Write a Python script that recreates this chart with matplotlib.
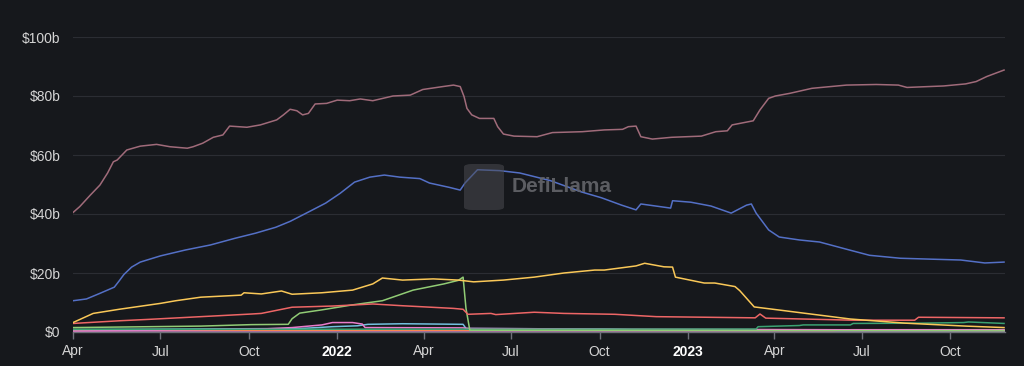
import matplotlib
matplotlib.use("Agg")
import matplotlib.pyplot as plt
from matplotlib.patches import FancyBboxPatch
import pandas as pd

# ---------------- data (billions USD) ----------------
usdt_dates = ["2021-04-01","2021-04-08","2021-04-19","2021-04-29","2021-05-07","2021-05-13","2021-05-17",
              "2021-05-27","2021-06-10","2021-06-27","2021-07-11","2021-07-29","2021-08-04","2021-08-14",
              "2021-08-25","2021-09-04","2021-09-11","2021-09-29","2021-10-13","2021-10-30","2021-11-06",
              "2021-11-13","2021-11-20","2021-11-26","2021-12-02","2021-12-09","2021-12-21","2022-01-01",
              "2022-01-14","2022-01-25","2022-02-07","2022-02-28","2022-03-18","2022-03-31","2022-04-21",
              "2022-05-02","2022-05-09","2022-05-13","2022-05-16","2022-05-21","2022-05-29","2022-06-13",
              "2022-06-17","2022-06-23","2022-07-04","2022-07-28","2022-08-13","2022-09-13","2022-10-06",
              "2022-10-25","2022-10-31","2022-11-08","2022-11-13","2022-11-25","2022-12-15","2023-01-15",
              "2023-01-30","2023-02-11","2023-02-16","2023-03-10","2023-03-17","2023-03-26","2023-04-02",
              "2023-04-17","2023-05-10","2023-06-15","2023-07-16","2023-08-08","2023-08-17","2023-09-24",
              "2023-10-17","2023-10-28","2023-11-08","2023-11-26"]
usdt_vals = [40.5,42.5,46.4,49.8,53.9,57.7,58.3,
             61.7,63.0,63.6,62.8,62.3,62.8,64.0,
             66.0,66.8,69.8,69.4,70.2,71.9,73.6,
             75.5,75.0,73.6,74.1,77.3,77.5,78.6,
             78.4,79.0,78.4,80.0,80.3,82.2,83.2,
             83.7,83.2,79.8,75.8,73.6,72.4,72.4,
             69.6,67.1,66.4,66.2,67.6,67.9,68.5,
             68.7,69.6,69.8,66.2,65.4,66.0,66.4,
             67.9,68.2,70.2,71.6,75.3,79.2,80.0,
             80.9,82.6,83.7,83.9,83.7,82.9,83.4,
             84.1,84.9,86.6,88.8]

usdc_dates = ["2021-04-01","2021-04-15","2021-04-29","2021-05-14","2021-05-19","2021-05-24","2021-06-01",
              "2021-06-10","2021-07-01","2021-07-27","2021-08-22","2021-09-17","2021-10-08","2021-10-29",
              "2021-11-13","2021-12-04","2021-12-20","2022-01-04","2022-01-19","2022-02-04","2022-02-19",
              "2022-03-07","2022-03-28","2022-04-07","2022-04-28","2022-05-09","2022-05-14","2022-05-27",
              "2022-06-19","2022-07-10","2022-08-11","2022-09-12","2022-10-03","2022-10-24","2022-11-08",
              "2022-11-13","2022-12-14","2022-12-16","2023-01-04","2023-01-25","2023-02-15","2023-03-03",
              "2023-03-08","2023-03-13","2023-03-26","2023-04-06","2023-04-27","2023-05-18","2023-06-18",
              "2023-07-09","2023-08-10","2023-09-10","2023-10-12","2023-11-06","2023-11-26"]
usdc_vals = [10.6,11.2,13.1,15.2,17.3,19.5,22.0,
             23.7,25.8,27.8,29.5,31.8,33.5,35.5,
             37.5,41.0,43.7,47.0,50.8,52.5,53.2,
             52.5,52.0,50.5,49.0,48.1,50.5,55.0,
             54.7,53.9,51.3,47.5,45.5,43.0,41.4,
             43.4,42.0,44.5,44.0,42.7,40.3,43.0,
             43.4,40.3,34.6,32.2,31.2,30.5,27.8,
             26.0,25.0,24.7,24.4,23.4,23.7]

busd_dates = ["2021-04-01","2021-04-22","2021-05-19","2021-07-01","2021-07-17","2021-08-12","2021-09-23",
              "2021-09-26","2021-10-14","2021-11-04","2021-11-15","2021-12-16","2022-01-17","2022-02-07",
              "2022-02-17","2022-03-10","2022-04-11","2022-05-07","2022-05-23","2022-06-23","2022-07-25",
              "2022-08-25","2022-09-26","2022-10-06","2022-11-08","2022-11-17","2022-12-07","2022-12-16",
              "2022-12-19","2023-01-18","2023-01-29","2023-02-19","2023-02-24","2023-03-11","2023-04-12",
              "2023-06-19","2023-08-15","2023-10-17","2023-11-26"]
busd_vals = [3.2,6.3,7.7,9.7,10.6,11.8,12.5,
             13.3,12.9,13.9,12.8,13.3,14.2,16.3,
             18.3,17.6,18.0,17.6,17.0,17.6,18.6,
             20.0,21.0,21.0,22.4,23.3,22.1,22.0,
             18.6,16.6,16.6,15.4,14.0,8.5,7.2,
             4.4,3.0,2.0,1.5]

dai_dates = ["2021-04-01","2021-05-19","2021-06-20","2021-08-12","2021-10-04","2021-10-14","2021-11-15",
             "2021-12-27","2022-02-07","2022-03-10","2022-05-02","2022-05-12","2022-05-17","2022-06-10",
             "2022-06-15","2022-07-25","2022-08-25","2022-10-17","2022-11-29","2023-01-20","2023-03-12",
             "2023-03-17","2023-03-23","2023-06-22","2023-08-25","2023-08-29","2023-11-26"]
dai_vals = [2.9,3.8,4.3,5.2,6.1,6.3,8.4,
            8.8,9.5,8.9,8.0,7.7,6.0,6.3,
            5.9,6.7,6.3,6.0,5.2,5.0,4.8,
            6.1,4.7,4.0,4.0,5.0,4.8]

ust_dates = ["2021-04-01","2021-08-12","2021-10-04","2021-11-11","2021-11-15","2021-11-23","2021-12-16",
             "2022-01-17","2022-02-17","2022-03-21","2022-04-22","2022-05-07","2022-05-12","2022-05-15",
             "2022-05-19","2023-11-26"]
ust_vals = [1.5,2.0,2.5,2.6,4.5,6.4,7.5,
            9.2,10.6,14.2,16.3,17.5,18.6,8.0,
            0.6,0.4]

mim_dates = ["2021-04-01","2021-06-15","2021-10-14","2021-11-15","2021-12-16","2021-12-27","2022-01-17",
             "2022-01-27","2022-01-30","2022-05-12","2022-05-17","2022-10-06","2023-11-26"]
mim_vals = [0.3,0.6,1.0,1.5,2.4,3.2,3.2,
            2.7,1.5,1.4,1.2,1.0,0.6]

frax_dates = ["2021-04-01","2021-11-25","2021-12-27","2022-01-22","2022-02-02","2022-03-10","2022-05-12",
              "2022-05-15","2022-10-06","2022-11-17","2023-11-26"]
frax_vals = [0.8,1.2,1.8,2.1,2.6,2.8,2.6,
             1.2,1.0,0.6,0.6]

tusd_dates = ["2021-04-01","2023-03-13","2023-03-15","2023-04-27","2023-05-01","2023-06-19","2023-06-22",
              "2023-09-01","2023-10-15","2023-10-20","2023-11-26"]
tusd_vals = [0.9,1.0,1.8,2.2,2.4,2.4,2.9,
             3.0,3.2,3.4,2.9]

usdp_dates = ["2021-04-01","2023-06-01","2023-06-20","2023-11-26"]
usdp_vals = [0.5,0.5,0.8,0.8]

gusd_dates = ["2021-04-01","2023-11-26"]
gusd_vals = [0.5,0.5]

lusd_dates = ["2021-04-01","2023-11-26"]
lusd_vals = [0.25,0.25]

y_ticks = [0, 20, 40, 60, 80, 100]
y_labels = ["$0", "$20b", "$40b", "$60b", "$80b", "$100b"]
x_ticks = ["2021-04-01","2021-07-01","2021-10-01","2022-01-01","2022-04-01","2022-07-01",
           "2022-10-01","2023-01-01","2023-04-01","2023-07-01","2023-10-01"]
x_labels = ["Apr","Jul","Oct","2022","Apr","Jul","Oct","2023","Apr","Jul","Oct"]

# ---------------- styling ----------------
BG = "#16181c"
plt.rcParams["font.family"] = ["Liberation Sans", "DejaVu Sans"]

fig = plt.figure(figsize=(10.24, 3.66), dpi=100, facecolor=BG)
ax = fig.add_axes([73/1024, 34/366, (1005-73)/1024, (332-37)/366])
ax.set_facecolor(BG)

series = [
    (lusd_dates, lusd_vals, "#a48be0", 2.2),
    (gusd_dates, gusd_vals, "#9a60b4", 1.2),
    (usdp_dates, usdp_vals, "#fc8452", 1.0),
    (frax_dates, frax_vals, "#73c0de", 1.1),
    (mim_dates, mim_vals, "#ea7ccc", 1.1),
    (tusd_dates, tusd_vals, "#3ba272", 1.1),
    (ust_dates, ust_vals, "#91cc75", 1.1),
    (dai_dates, dai_vals, "#ee6666", 1.1),
    (busd_dates, busd_vals, "#fac858", 1.1),
    (usdc_dates, usdc_vals, "#5470c6", 1.1),
    (usdt_dates, usdt_vals, "#a06b7a", 1.1),
]
for d, v, c, lw in series:
    ax.plot(pd.to_datetime(d), v, color=c, lw=lw, solid_joinstyle="round")

ax.set_ylim(0, 100)
ax.set_xlim(pd.Timestamp("2021-04-01"), pd.Timestamp("2023-11-27"))

ax.set_yticks(y_ticks)
ax.set_yticklabels(y_labels)
ax.grid(axis="y", color="#2b2d33", lw=0.8)
ax.set_axisbelow(True)
ax.tick_params(axis="y", length=0, pad=9, labelsize=10, labelcolor="#d4d4d4")

xt = pd.to_datetime(x_ticks)
ax.set_xticks(xt)
ax.set_xticklabels(x_labels)
ax.tick_params(axis="x", length=5, width=1, color="#6e7079", pad=4, labelsize=10, labelcolor="#d4d4d4")
for lab in ax.get_xticklabels():
    if lab.get_text() in ("2022", "2023"):
        lab.set_fontweight("bold")
        lab.set_color("#ffffff")

for s in ["top", "right", "left"]:
    ax.spines[s].set_visible(False)
ax.spines["bottom"].set_color("#6e7079")
ax.spines["bottom"].set_linewidth(1)

# watermark
logo = FancyBboxPatch((464/1024, (366-210)/366), 40/1024, 46/366,
                      boxstyle="round,pad=0.0,rounding_size=0.008",
                      transform=fig.transFigure, facecolor="#4a4b50", edgecolor="none", alpha=0.55, zorder=5)
fig.patches.append(logo)
fig.text(512/1024, (366-186)/366, "DefiLlama", color="#64656a", fontsize=15, fontweight="bold",
         ha="left", va="center", alpha=0.9, zorder=6)

fig.savefig("out.png", dpi=100, facecolor=BG)
